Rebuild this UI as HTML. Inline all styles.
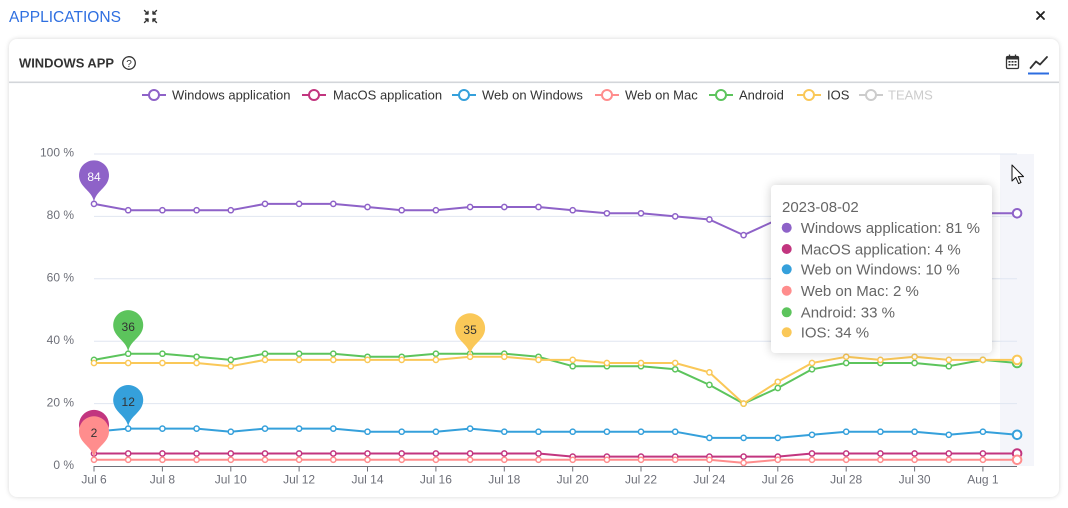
<!DOCTYPE html>
<html>
<head>
<meta charset="utf-8">
<style>
  html,body{margin:0;padding:0;background:#fff;}
  body{width:1068px;height:508px;position:relative;overflow:hidden;font-family:"Liberation Sans",sans-serif;}
  .card{position:absolute;left:9px;top:39px;width:1050px;height:458px;border-radius:8px;background:#fff;box-shadow:0 0 5px rgba(0,0,0,0.16);}
  svg.main{position:absolute;left:0;top:0;}
  .tip{position:absolute;left:771px;top:185px;width:221px;height:168px;background:#fff;border-radius:4px;box-shadow:0 0 10px rgba(0,0,0,0.2);}
  .tip svg{position:absolute;left:0;top:0;}
</style>
</head>
<body>
<div class="card"></div>
<svg class="main" width="1068" height="508" viewBox="0 0 1068 508" xmlns="http://www.w3.org/2000/svg" font-family="Liberation Sans, sans-serif">
  <defs>
    <marker id="mP" markerUnits="userSpaceOnUse" markerWidth="8" markerHeight="8" refX="4" refY="4"><circle cx="4" cy="4" r="2.6" fill="#fff" stroke="#8e62c8" stroke-width="1.5"/></marker>
    <marker id="mM" markerUnits="userSpaceOnUse" markerWidth="8" markerHeight="8" refX="4" refY="4"><circle cx="4" cy="4" r="2.6" fill="#fff" stroke="#c2357f" stroke-width="1.5"/></marker>
    <marker id="mB" markerUnits="userSpaceOnUse" markerWidth="8" markerHeight="8" refX="4" refY="4"><circle cx="4" cy="4" r="2.6" fill="#fff" stroke="#35a0db" stroke-width="1.5"/></marker>
    <marker id="mK" markerUnits="userSpaceOnUse" markerWidth="8" markerHeight="8" refX="4" refY="4"><circle cx="4" cy="4" r="2.6" fill="#fff" stroke="#ff8d8d" stroke-width="1.5"/></marker>
    <marker id="mG" markerUnits="userSpaceOnUse" markerWidth="8" markerHeight="8" refX="4" refY="4"><circle cx="4" cy="4" r="2.6" fill="#fff" stroke="#5cc45c" stroke-width="1.5"/></marker>
    <marker id="mY" markerUnits="userSpaceOnUse" markerWidth="8" markerHeight="8" refX="4" refY="4"><circle cx="4" cy="4" r="2.6" fill="#fff" stroke="#fac858" stroke-width="1.5"/></marker>
    <path id="pin" d="M-13.553,-22.143 A15,15 0 1 1 13.553,-22.143 C9.696,-14.01 0,-10.5 0,0 C0,-10.5 -9.696,-14.01 -13.553,-22.143 Z"/>
  </defs>

  <!-- top bar -->
  <text x="9" y="22" font-size="16" fill="#2f6fe0" textLength="112" lengthAdjust="spacingAndGlyphs">APPLICATIONS</text>
  <g stroke="#333" stroke-width="1.4" fill="none" stroke-linecap="round" stroke-linejoin="round">
    <path d="M144.5,10.5 L148,14 M148,11.5 L148,14 L145.5,14"/>
    <path d="M156.5,10.5 L153,14 M153,11.5 L153,14 L155.5,14"/>
    <path d="M144.5,22.5 L148,19 M148,21.5 L148,19 L145.5,19"/>
    <path d="M156.5,22.5 L153,19 M153,21.5 L153,19 L155.5,19"/>
  </g>
  <g stroke="#222" stroke-width="1.8" stroke-linecap="round">
    <line x1="1037" y1="12" x2="1044" y2="19"/>
    <line x1="1044" y1="12" x2="1037" y2="19"/>
  </g>

  <!-- card header -->
  <text x="19" y="67.5" font-size="12.5" font-weight="bold" fill="#333" textLength="95" lengthAdjust="spacingAndGlyphs">WINDOWS APP</text>
  <circle cx="129" cy="63" r="6.3" fill="none" stroke="#333" stroke-width="1.3"/>
  <text x="129" y="66.8" font-size="10" fill="#333" text-anchor="middle">?</text>
  <!-- calendar -->
  <g>
    <rect x="1006.5" y="56.5" width="12" height="12" rx="1.2" fill="none" stroke="#333" stroke-width="1.3"/>
    <rect x="1006.5" y="56.5" width="12" height="3" fill="#333"/>
    <line x1="1009.5" y1="54.5" x2="1009.5" y2="57.5" stroke="#333" stroke-width="1.3"/>
    <line x1="1015.5" y1="54.5" x2="1015.5" y2="57.5" stroke="#333" stroke-width="1.3"/>
    <g fill="#333">
      <rect x="1008.5" y="61" width="2" height="1.6"/><rect x="1011.5" y="61" width="2" height="1.6"/><rect x="1014.5" y="61" width="2" height="1.6"/>
      <rect x="1008.5" y="64" width="2" height="1.6"/><rect x="1011.5" y="64" width="2" height="1.6"/><rect x="1014.5" y="64" width="2" height="1.6"/>
    </g>
  </g>
  <polyline points="1030.5,68 1036,61.5 1040,64.5 1047,57" fill="none" stroke="#333" stroke-width="1.8" stroke-linejoin="round" stroke-linecap="round"/>
  <rect x="1028" y="72.5" width="21" height="2" fill="#2c6de0"/>
  <rect x="9" y="81.5" width="1050" height="1.6" fill="#d3d6da"/>

  <!-- legend -->
  <g font-size="13" fill="#333">
    <line x1="142" y1="95" x2="166" y2="95" stroke="#8e62c8" stroke-width="2"/><circle cx="154" cy="95" r="5" fill="#fff" stroke="#8e62c8" stroke-width="2"/>
    <text x="172" y="99.5">Windows application</text>
    <line x1="302" y1="95" x2="326" y2="95" stroke="#c2357f" stroke-width="2"/><circle cx="314" cy="95" r="5" fill="#fff" stroke="#c2357f" stroke-width="2"/>
    <text x="333" y="99.5">MacOS application</text>
    <line x1="452" y1="95" x2="476" y2="95" stroke="#35a0db" stroke-width="2"/><circle cx="464" cy="95" r="5" fill="#fff" stroke="#35a0db" stroke-width="2"/>
    <text x="482" y="99.5">Web on Windows</text>
    <line x1="595" y1="95" x2="619" y2="95" stroke="#ff8d8d" stroke-width="2"/><circle cx="607" cy="95" r="5" fill="#fff" stroke="#ff8d8d" stroke-width="2"/>
    <text x="625" y="99.5">Web on Mac</text>
    <line x1="709" y1="95" x2="733" y2="95" stroke="#5cc45c" stroke-width="2"/><circle cx="721" cy="95" r="5" fill="#fff" stroke="#5cc45c" stroke-width="2"/>
    <text x="739" y="99.5">Android</text>
    <line x1="797" y1="95" x2="821" y2="95" stroke="#fac858" stroke-width="2"/><circle cx="809" cy="95" r="5" fill="#fff" stroke="#fac858" stroke-width="2"/>
    <text x="827" y="99.5">IOS</text>
    <line x1="859" y1="95" x2="883" y2="95" stroke="#ccc" stroke-width="2"/><circle cx="871" cy="95" r="5" fill="#fff" stroke="#ccc" stroke-width="2"/>
    <text x="888" y="99.5" fill="#ccc">TEAMS</text>
  </g>

  <!-- hover band -->
  <rect x="1000" y="154" width="34" height="312" fill="#f4f5fa"/>

  <!-- grid -->
  <g stroke="#e0e6f1" stroke-width="1">
    <line x1="94" y1="154" x2="1017" y2="154"/>
    <line x1="94" y1="216.4" x2="1017" y2="216.4"/>
    <line x1="94" y1="278.8" x2="1017" y2="278.8"/>
    <line x1="94" y1="341.2" x2="1017" y2="341.2"/>
    <line x1="94" y1="403.6" x2="1017" y2="403.6"/>
  </g>
  <line x1="94" y1="466.5" x2="1017" y2="466.5" stroke="#6e7079" stroke-width="1"/>
  <g stroke="#6e7079" stroke-width="1">
    <line x1="94" y1="466" x2="94" y2="471.5"/><line x1="162.4" y1="466" x2="162.4" y2="471.5"/><line x1="230.8" y1="466" x2="230.8" y2="471.5"/>
    <line x1="299.1" y1="466" x2="299.1" y2="471.5"/><line x1="367.5" y1="466" x2="367.5" y2="471.5"/><line x1="435.9" y1="466" x2="435.9" y2="471.5"/>
    <line x1="504.3" y1="466" x2="504.3" y2="471.5"/><line x1="572.7" y1="466" x2="572.7" y2="471.5"/><line x1="641" y1="466" x2="641" y2="471.5"/>
    <line x1="709.4" y1="466" x2="709.4" y2="471.5"/><line x1="777.8" y1="466" x2="777.8" y2="471.5"/><line x1="846.2" y1="466" x2="846.2" y2="471.5"/>
    <line x1="914.6" y1="466" x2="914.6" y2="471.5"/><line x1="982.9" y1="466" x2="982.9" y2="471.5"/>
  </g>

  <!-- y labels -->
  <g font-size="12" fill="#6e7079" text-anchor="end">
    <text x="74" y="156.5">100 %</text>
    <text x="74" y="219">80 %</text>
    <text x="74" y="281.5">60 %</text>
    <text x="74" y="344">40 %</text>
    <text x="74" y="406.5">20 %</text>
    <text x="74" y="469">0 %</text>
  </g>
  <!-- x labels -->
  <g font-size="12" fill="#6e7079" text-anchor="middle">
    <text x="94" y="483.5">Jul 6</text>
    <text x="162.4" y="483.5">Jul 8</text>
    <text x="230.8" y="483.5">Jul 10</text>
    <text x="299.1" y="483.5">Jul 12</text>
    <text x="367.5" y="483.5">Jul 14</text>
    <text x="435.9" y="483.5">Jul 16</text>
    <text x="504.3" y="483.5">Jul 18</text>
    <text x="572.7" y="483.5">Jul 20</text>
    <text x="641" y="483.5">Jul 22</text>
    <text x="709.4" y="483.5">Jul 24</text>
    <text x="777.8" y="483.5">Jul 26</text>
    <text x="846.2" y="483.5">Jul 28</text>
    <text x="914.6" y="483.5">Jul 30</text>
    <text x="982.9" y="483.5">Aug 1</text>
  </g>

  <!-- series -->
  <g fill="none" stroke-width="2" stroke-linejoin="round">
    <polyline stroke="#8e62c8" marker-start="url(#mP)" marker-mid="url(#mP)"
      points="94,203.9 128.2,210.2 162.4,210.2 196.6,210.2 230.8,210.2 265,203.9 299.1,203.9 333.3,203.9 367.5,207 401.7,210.2 435.9,210.2 470.1,207 504.3,207 538.5,207 572.7,210.2 606.9,213.3 641,213.3 675.2,216.4 709.4,219.5 743.6,235.1 777.8,219.5 812,213.3 846.2,213.3 880.4,213.3 914.6,213.3 948.8,213.3 982.9,213.3 1017.1,213.3"/>
    <polyline stroke="#c2357f" marker-start="url(#mM)" marker-mid="url(#mM)"
      points="94,453.5 128.2,453.5 162.4,453.5 196.6,453.5 230.8,453.5 265,453.5 299.1,453.5 333.3,453.5 367.5,453.5 401.7,453.5 435.9,453.5 470.1,453.5 504.3,453.5 538.5,453.5 572.7,456.6 606.9,456.6 641,456.6 675.2,456.6 709.4,456.6 743.6,456.6 777.8,456.6 812,453.5 846.2,453.5 880.4,453.5 914.6,453.5 948.8,453.5 982.9,453.5 1017.1,453.5"/>
    <polyline stroke="#35a0db" marker-start="url(#mB)" marker-mid="url(#mB)"
      points="94,431.7 128.2,428.6 162.4,428.6 196.6,428.6 230.8,431.7 265,428.6 299.1,428.6 333.3,428.6 367.5,431.7 401.7,431.7 435.9,431.7 470.1,428.6 504.3,431.7 538.5,431.7 572.7,431.7 606.9,431.7 641,431.7 675.2,431.7 709.4,437.9 743.6,437.9 777.8,437.9 812,434.8 846.2,431.7 880.4,431.7 914.6,431.7 948.8,434.8 982.9,431.7 1017.1,434.8"/>
    <polyline stroke="#ff8d8d" marker-start="url(#mK)" marker-mid="url(#mK)"
      points="94,459.8 128.2,459.8 162.4,459.8 196.6,459.8 230.8,459.8 265,459.8 299.1,459.8 333.3,459.8 367.5,459.8 401.7,459.8 435.9,459.8 470.1,459.8 504.3,459.8 538.5,459.8 572.7,459.8 606.9,459.8 641,459.8 675.2,459.8 709.4,459.8 743.6,462.9 777.8,459.8 812,459.8 846.2,459.8 880.4,459.8 914.6,459.8 948.8,459.8 982.9,459.8 1017.1,459.8"/>
    <polyline stroke="#5cc45c" marker-start="url(#mG)" marker-mid="url(#mG)"
      points="94,359.9 128.2,353.7 162.4,353.7 196.6,356.8 230.8,359.9 265,353.7 299.1,353.7 333.3,353.7 367.5,356.8 401.7,356.8 435.9,353.7 470.1,353.7 504.3,353.7 538.5,356.8 572.7,366.2 606.9,366.2 641,366.2 675.2,369.3 709.4,384.9 743.6,403.6 777.8,388 812,369.3 846.2,363 880.4,363 914.6,363 948.8,366.2 982.9,359.9 1017.1,363"/>
    <polyline stroke="#fac858" marker-start="url(#mY)" marker-mid="url(#mY)"
      points="94,363 128.2,363 162.4,363 196.6,363 230.8,366.2 265,359.9 299.1,359.9 333.3,359.9 367.5,359.9 401.7,359.9 435.9,359.9 470.1,356.8 504.3,356.8 538.5,359.9 572.7,359.9 606.9,363 641,363 675.2,363 709.4,372.4 743.6,403.6 777.8,381.8 812,363 846.2,356.8 880.4,359.9 914.6,356.8 948.8,359.9 982.9,359.9 1017.1,359.9"/>
  </g>
  <!-- emphasized last points -->
  <g fill="#fff" stroke-width="2">
    <circle cx="1017.1" cy="213.3" r="4.3" stroke="#8e62c8"/>
    <circle cx="1017.1" cy="453.5" r="4.3" stroke="#c2357f"/>
    <circle cx="1017.1" cy="434.8" r="4.3" stroke="#35a0db"/>
    <circle cx="1017.1" cy="459.8" r="4.3" stroke="#ff8d8d"/>
    <circle cx="1017.1" cy="363" r="4.3" stroke="#5cc45c"/>
    <circle cx="1017.1" cy="359.9" r="4.3" stroke="#fac858"/>
  </g>

  <!-- pins -->
  <g font-size="12" text-anchor="middle">
    <use href="#pin" transform="translate(94,203.9)" fill="#8e62c8"/>
    <text x="94" y="181.2" fill="#fff">84</text>
    <use href="#pin" transform="translate(128.2,353.7)" fill="#5cc45c"/>
    <text x="128.2" y="331" fill="#333">36</text>
    <use href="#pin" transform="translate(470.1,356.8)" fill="#fac858"/>
    <text x="470.1" y="334.1" fill="#333">35</text>
    <use href="#pin" transform="translate(128.2,428.6)" fill="#35a0db"/>
    <text x="128.2" y="405.9" fill="#333">12</text>
    <use href="#pin" transform="translate(94,453.5)" fill="#c2357f"/>
    <text x="94" y="430.8" fill="#fff">4</text>
    <use href="#pin" transform="translate(94,459.8)" fill="#ff8d8d"/>
    <text x="94" y="437.1" fill="#333">2</text>
  </g>

  <!-- cursor -->
  <polygon points="1012,165 1012,181 1015.8,177.4 1018.6,183.6 1021,182.6 1018.3,176.6 1023.5,176.6" fill="#fff" stroke="#111" stroke-width="1" stroke-linejoin="round"/>
</svg>

<div class="tip">
  <svg width="221" height="168" viewBox="0 0 221 168" xmlns="http://www.w3.org/2000/svg" font-family="Liberation Sans, sans-serif" font-size="15" fill="#666">
    <text x="11" y="27">2023-08-02</text>
    <circle cx="15.7" cy="42.7" r="5" fill="#8e62c8"/>
    <text x="29.7" y="48">Windows application: 81 %</text>
    <circle cx="15.7" cy="64" r="5" fill="#c2357f"/>
    <text x="29.7" y="69.3">MacOS application: 4 %</text>
    <circle cx="15.7" cy="84.3" r="5" fill="#35a0db"/>
    <text x="29.7" y="89.6">Web on Windows: 10 %</text>
    <circle cx="15.7" cy="105.7" r="5" fill="#ff8d8d"/>
    <text x="29.7" y="111">Web on Mac: 2 %</text>
    <circle cx="15.7" cy="127.3" r="5" fill="#5cc45c"/>
    <text x="29.7" y="132.6">Android: 33 %</text>
    <circle cx="15.7" cy="147.3" r="5" fill="#fac858"/>
    <text x="29.7" y="152.6">IOS: 34 %</text>
  </svg>
</div>
</body>
</html>
